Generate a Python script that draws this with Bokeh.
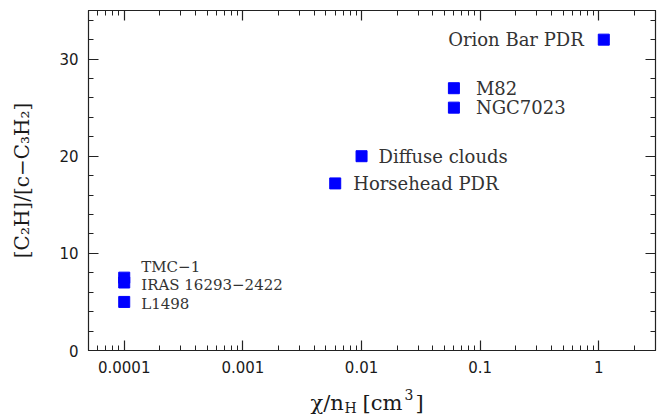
from bokeh.plotting import figure
from bokeh.layouts import column
from bokeh.models import (ColumnDataSource, FixedTicker, LogAxis, LinearAxis,
                          Range1d, CustomJSTickFormatter)
from bokeh.core.properties import value
from bokeh.embed import file_html
from bokeh.resources import INLINE

# Sources: UV field over density vs. C2H / c-C3H2 abundance ratio
source_names = ["Orion Bar PDR", "M82", "NGC7023", "Diffuse clouds",
                "Horsehead PDR", "TMC\u22121", "IRAS 16293\u22122422", "L1498"]
chi_over_nh = [1.1, 0.06, 0.06, 0.01, 0.006, 1e-4, 1e-4, 1e-4]
abundance_ratio = [32.0, 27.0, 25.0, 20.0, 17.2, 7.5, 7.0, 5.0]

x_tick_values = [1e-4, 1e-3, 1e-2, 1e-1, 1.0]
x_tick_labels = ["0.0001", "0.001", "0.01", "0.1", "1"]
y_tick_values = [0, 10, 20, 30]

# label placement (pixel offsets from each marker) and text sizes
label_dx = [-20, 22, 22, 17, 18, 17, 17, 17]
label_dy = [0, 0, 0, 0, 0, -11, 2, 2]
label_align = ["right", "left", "left", "left", "left", "left", "left", "left"]
label_size = ["18px"] * 5 + ["15px"] * 3

x_minor = [m * 10.0 ** e for e in range(-5, 1) for m in range(2, 10)]
y_minor = [v for v in range(0, 36, 2) if v % 10]

src = ColumnDataSource(dict(x=chi_over_nh, y=abundance_ratio, name=source_names,
                            dx=label_dx, dy=label_dy, align=label_align,
                            fs=label_size))

BORDER_L, BORDER_R = 88, 2

p = figure(width=657, height=380, x_axis_type="log", title=None,
           x_range=Range1d(5e-5, 3.0), y_range=Range1d(0, 35),
           output_backend="svg", toolbar_location=None,
           min_border_left=BORDER_L, min_border_right=BORDER_R,
           min_border_top=10, min_border_bottom=30)
p.grid.visible = False
p.background_fill_color = "white"
p.border_fill_color = "white"
p.outline_line_color = "#222222"
p.outline_line_width = 1.2

xt = FixedTicker(ticks=x_tick_values, minor_ticks=x_minor)
yt = FixedTicker(ticks=y_tick_values, minor_ticks=y_minor)

x_fmt = CustomJSTickFormatter(
    args=dict(vals=x_tick_values, labels=x_tick_labels),
    code="""
    for (let i = 0; i < vals.length; i++) {
        if (Math.abs(Math.log10(vals[i]) - Math.log10(tick)) < 1e-6) return labels[i];
    }
    return '';
    """)


def style_axis(ax, show_labels):
    ax.major_tick_in = 10
    ax.major_tick_out = 0
    ax.minor_tick_in = 5
    ax.minor_tick_out = 0
    ax.axis_line_color = "#222222"
    ax.major_tick_line_color = "#222222"
    ax.minor_tick_line_color = "#222222"
    ax.major_tick_line_width = 1.2
    ax.minor_tick_line_width = 1.0
    ax.major_label_text_font = "DejaVu Sans"
    ax.major_label_text_color = "#1a1a1a"
    if show_labels:
        ax.major_label_text_font_size = "15px"
    else:
        ax.major_label_text_font_size = "1px"
        ax.major_label_text_alpha = 0
        ax.major_label_standoff = 0


xa = p.xaxis[0]
xa.ticker = xt
xa.formatter = x_fmt
style_axis(xa, True)
xa.major_label_standoff = 10

ya = p.yaxis[0]
ya.ticker = yt
style_axis(ya, True)
ya.major_label_standoff = 10
ya.axis_label = "[C\u2082H]/[c\u2212C\u2083H\u2082]"
ya.axis_label_text_font = "DejaVu Serif"
ya.axis_label_text_font_style = "normal"
ya.axis_label_text_font_size = "20px"
ya.axis_label_text_color = "#1a1a1a"
ya.axis_label_standoff = 22

top = LogAxis(ticker=xt)
style_axis(top, False)
p.add_layout(top, "above")
right = LinearAxis(ticker=yt)
style_axis(right, False)
p.add_layout(right, "right")

p.scatter("x", "y", source=src, marker="square", size=11,
          fill_color="#0000ff", line_color="#0000ff")
p.text("x", "y", text="name", source=src, x_offset="dx", y_offset="dy",
       text_align="align", text_baseline="middle",
       text_font=value("DejaVu Serif"), text_font_size="fs",
       text_color="#333333")

# x-axis title strip below the plot: chi/n_H [cm^3] with a lowered H and raised 3.
# Its frame lines up with the plot frame, so x runs in page pixels from 88 to 655.
STRIP_H = 39
strip = figure(width=657, height=STRIP_H, title=None,
               x_range=Range1d(BORDER_L, 657 - BORDER_R), y_range=Range1d(0, STRIP_H),
               output_backend="svg", toolbar_location=None,
               x_axis_location=None, y_axis_location=None,
               min_border_left=BORDER_L, min_border_right=BORDER_R,
               min_border_top=0, min_border_bottom=0)
strip.grid.visible = False
strip.outline_line_color = None
title_src = ColumnDataSource(dict(
    t=["\u03c7/n", "H", "[cm", "3", "]"],
    x=[310, 344, 362, 404, 415],
    y=[17, 12, 17, 25, 17],
    fs=["21px", "14px", "21px", "14px", "21px"],
))
strip.text("x", "y", text="t", source=title_src, text_font=value("DejaVu Serif"),
           text_font_size="fs", text_baseline="alphabetic", text_align="left",
           text_color="#1a1a1a")

layout = column(p, strip, spacing=0)
open("out.html", "w").write(file_html(layout, INLINE))
